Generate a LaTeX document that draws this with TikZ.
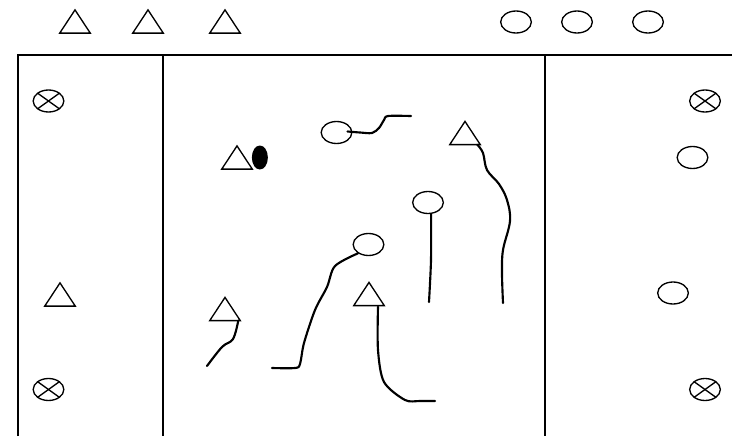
\documentclass[tikz,border=0pt]{standalone}
\usepackage{tikz}
\usetikzlibrary{positioning,shapes.geometric,calc}

\begin{document}
\begin{tikzpicture}[
  x=0.75pt, y=-0.75pt,
  field/.style={line width=1.1pt, draw=black},
  tri/.style={rectangle, inner sep=0pt, minimum width=22.5pt, minimum height=17pt},
  opp/.style={ellipse, draw, line width=1pt, inner sep=0pt,
    minimum width=23pt, minimum height=16.5pt},
  cone/.style={opp,
    path picture={
      \draw[line width=1pt] (path picture bounding box.south west) -- (path picture bounding box.north east);
      \draw[line width=1pt] (path picture bounding box.north west) -- (path picture bounding box.south east);
    }},
  ball/.style={ellipse, fill=black, inner sep=0pt, minimum width=12pt, minimum height=18pt},
  run/.style={line width=1.6pt, line cap=round, line join=round},
]
\useasboundingbox (0,0) rectangle (732,436);

% =================== field lines ===================
\draw[field] (18,436) -- (18,55) -- (732,55);
\draw[field] (163,55) -- (163,436);
\draw[field] (545,55) -- (545,436);

% =================== players waiting ===================
\node[tri] (wa1) at (75,21.5) {};
\node[tri] (wa2) at (148,21.5) {};
\node[tri] (wa3) at (225,21.5) {};
\node[opp] (wb1) at (516,22) {};
\node[opp] (wb2) at (577,22) {};
\node[opp] (wb3) at (648,22) {};

% =================== left zone ===================
\node[cone] (kl1) at (48.5,101) {};
\node[cone] (kl2) at (48.5,389.5) {};
\node[tri] (tl) at (60,294.5) {};

% =================== right zone ===================
\node[cone] (kr1) at (705,101) {};
\node[cone] (kr2) at (705,389.5) {};
\node[opp] (or1) at (692.5,157.5) {};
\node[opp] (or2) at (673,293) {};

% =================== middle zone ===================
\node[tri] (tm1) at (237,157.5) {};
\node[ball, right=-0.5pt of tm1] (bl) {};
\node[opp] (om1) at (336.5,132.5) {};
\node[tri] (tm2) at (465,133) {};
\node[opp] (om2) at (428,202.5) {};
\node[opp] (om3) at (368.5,244.5) {};
\node[tri] (tm3) at (369,294) {};
\node[tri] (tm4) at (225,309) {};

% triangles drawn from the node anchors
\foreach \t in {wa1,wa2,wa3,tl,tm1,tm2,tm3,tm4}
  \draw[line width=1pt] (\t.south west) -- (\t.north) -- (\t.south east) -- cycle;

% =================== runs ===================
\coordinate (e1) at (411,116);
\coordinate (e2) at (503,303);
\coordinate (e3) at (429,302);
\coordinate (e4) at (272,368);
\coordinate (e5) at (435,401);
\coordinate (e6) at (207,366);

\draw[run] plot[smooth, tension=0.5] coordinates
  {(e1) (388,116) (384,120) (379,128) (372,133) (360,132.5) ($(om1.east)+(-5,-1)$)};
\draw[run] plot[smooth, tension=0.6] coordinates
  {($(tm2.south east)+(-3,0)$) (483,153) (487,170) (499,184) (507,200) (510,221) (503,250) (502,273) (e2)};
\draw[run] plot[smooth, tension=0.5] coordinates
  {(om2.-75) (431,260) (e3)};
\draw[run] plot[smooth, tension=0.5] coordinates
  {(om3.-140) (335,266) (327,287) (315,310) (304,343) (300,364) (295,368) (e4)};
\draw[run] plot[smooth, tension=0.5] coordinates
  {($(tm3.south)+(9,1)$) (378,350) (384,382) (405,400) (420,401) (e5)};
\draw[run] plot[smooth, tension=0.6] coordinates
  {($(tm4.south east)+(-2,0)$) (233,339) (222,347) (e6)};

\end{tikzpicture}
\end{document}
